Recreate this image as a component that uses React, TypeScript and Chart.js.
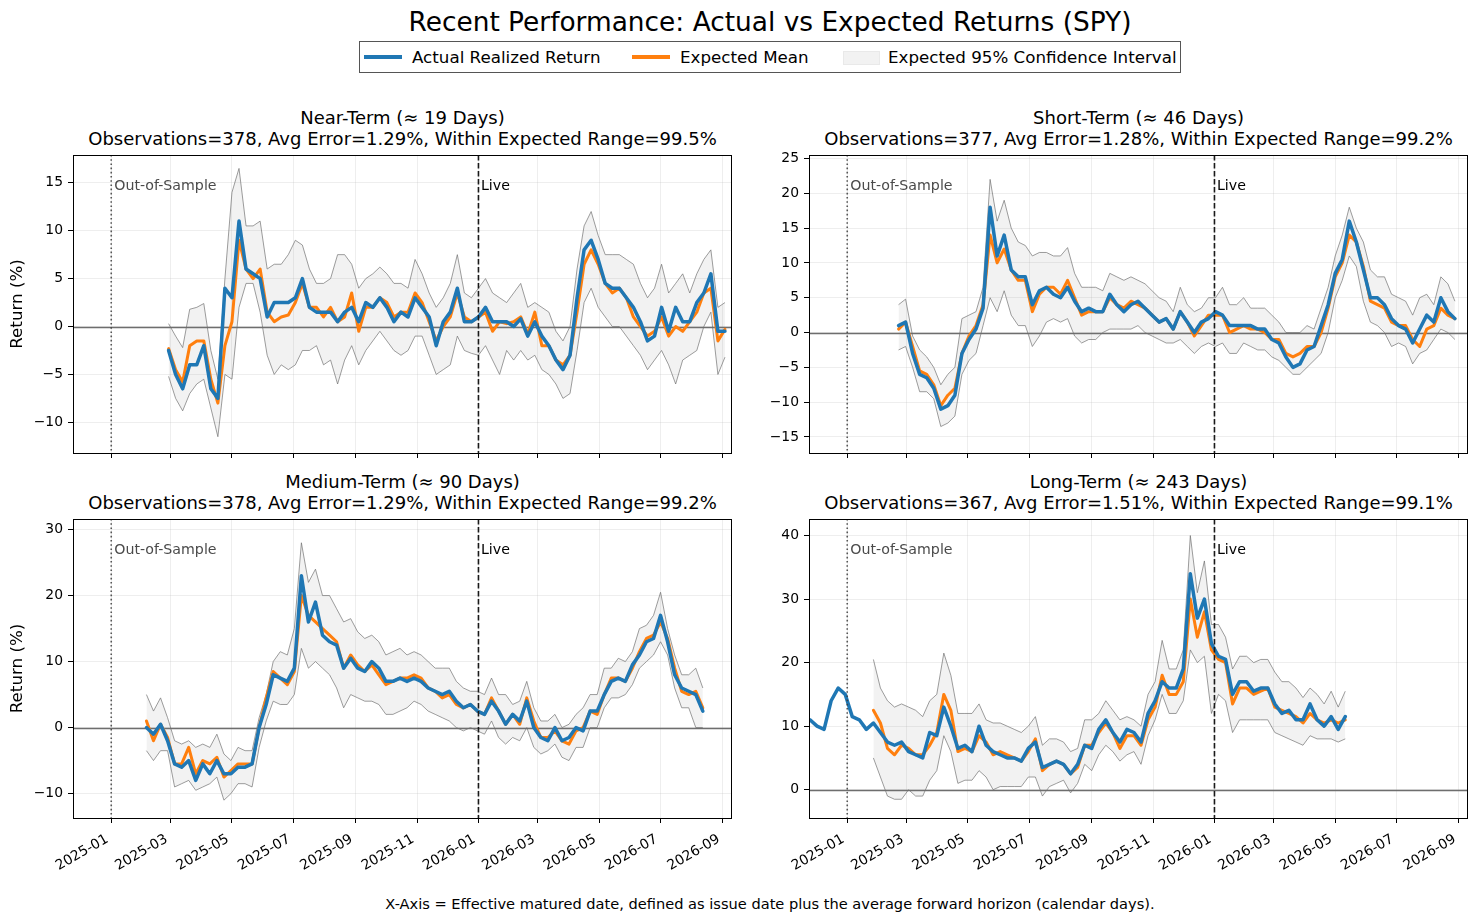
import { useEffect, useRef } from 'react';
import { Chart, registerables } from 'chart.js';

Chart.register(...registerables);

const FONT = "'DejaVu Sans', 'Liberation Sans', sans-serif";

// --- shared axis values ---
const X_TICK_LABELS = [
  '2025-01', '2025-03', '2025-05', '2025-07', '2025-09', '2025-11',
  '2026-01', '2026-03', '2026-05', '2026-07', '2026-09',
];
const X_RANGE = ['2024-11-24', '2026-09-10'];
const OUT_OF_SAMPLE_DATE = '2025-01-01';
const LIVE_DATE = '2026-01-01';
const SAMPLE_STEP_DAYS = 7;

// --- Near-Term (≈ 19 days), weekly from 2025-02-27 ---
const NEAR_START = '2025-02-27';
const NEAR_ACTUAL = [
  -2.5, -5, -6.5, -4, -4, -2, -6.5, -7.5, 4, 3,
  11, 6, 5.5, 5, 1, 2.5, 2.5, 2.5, 3, 5,
  2, 1.5, 1.5, 1.5, 0.5, 1.5, 2, 0.5, 2.5, 2,
  3, 2, 0.5, 1.5, 1, 3, 2, 1, -2, 0.5,
  1.5, 4, 0.5, 0.5, 1, 2, 0.5, 0.5, 0.5, 0,
  0.8, -1, 0.5, -1, -2, -3.5, -4.5, -3, 3, 8,
  9, 7, 4.5, 4, 4, 3, 2, 0.5, -1.5, -1,
  2, -0.5, 2, 0.5, 0.5, 2.5, 3.5, 5.5, -0.5, -0.5,
];
const NEAR_MEAN = [
  -2.3, -4.5, -5.8, -2, -1.5, -1.5, -5.5, -8, -2, 0.5,
  9, 6, 5, 6, 1.5, 0.5, 1, 1.2, 2.5, 4.5,
  2, 2, 1, 2, 0.5, 1, 3.5, -0.5, 2, 2,
  3, 2.5, 1, 1.5, 1.5, 3.5, 2.5, 0.5, -1.5, 0,
  1, 3.5, 1, 0.5, 1, 1.5, -0.5, 0.5, 0.3, 0.5,
  1, -0.8, 1.5, -2, -2, -3.5, -4, -3, 1.5, 6.5,
  8, 6.5, 4.5, 3.5, 4, 3, 1, 0, -1, -0.5,
  1, -1, 0, -0.5, 0.5, 1.5, 3.5, 4, -1.5, -0.3,
];
const NEAR_LOWER = [
  -5.2, -7.5, -8.8, -7, -6, -5.5, -8.5, -11.5, -5, -5.5,
  2, 4.5, 4.5, 1.5, -3, -5, -4, -4.5, -4, -2.5,
  -2.5, -2, -4, -3.5, -6, -3.5, -2, -4, -2.5, -1.5,
  -0.5, -1.5, -2.5, -3, -2.5, -1, -1, -3, -5, -4.5,
  -4, -1, -2.5, -2.8, -3, -2, -3.5, -5, -2.5, -3.5,
  -2.5, -3.5, -3, -4.5, -5, -6, -7.5, -7, -2.5, 2.5,
  4, 2, 1, 0, 0, -1, -2, -3, -4.5, -3.5,
  -2.5, -4, -6, -3.5, -3, -2.5, 0, 1.5, -5, -3.2,
];
const NEAR_UPPER = [
  0.3, -1, -2.2, 1.8, 2, 2.4, -2.5, -5.5, 5, 14,
  16.5, 10.5, 10.5, 11, 6, 6.5, 6.5, 7.5, 9, 8.5,
  6, 4.5, 4.5, 5, 7.5, 7.5, 6.5, 4, 5, 5.5,
  6.2, 5.5, 4.5, 4.5, 4, 7, 5.5, 3.5, 2, 3,
  4.5, 7.5, 3.5, 3, 4, 5, 3.5, 3, 2.5, 3.5,
  4.5, 2, 2.5, 2, 1.5, -0.5, -1.5, 0, 6, 10.5,
  12, 9.5, 7.5, 7.5, 7.5, 7, 6.5, 4.5, 3, 4,
  6.5, 3.5, 4.5, 5.5, 3.5, 5.5, 7, 8, 2, 2.5,
];
const NEAR_Y_TICKS = [-10, -5, 0, 5, 10, 15];

// --- Short-Term (≈ 46 days), weekly from 2025-02-21 ---
const SHORT_START = '2025-02-21';
const SHORT_ACTUAL = [
  1, 1.5, -3, -6, -6.5, -8, -11, -10.5, -9, -3,
  -1, 0.5, 3.5, 18, 11, 14, 9, 8, 8, 4,
  6, 6.5, 5.5, 5, 6.5, 4.5, 3, 3.5, 3, 3,
  5.5, 4, 3, 4, 4.5, 3.5, 2.5, 1.5, 2, 0.5,
  3, 1.5, 0, 1.5, 2, 3, 2.5, 1, 1, 1,
  1, 0.5, 0.5, -1, -1.5, -3.5, -5, -4.5, -2.5, -2,
  1, 4, 8.5, 10.5, 16, 13, 9, 5, 5, 4,
  2, 1, 0.5, -1.5, 0.5, 2.5, 1.5, 5, 3, 2,
];
const SHORT_MEAN = [
  0.5, 1.5, -2, -5.5, -6, -7.5, -10.5, -9, -8, -3,
  -0.5, 1, 4, 14, 10, 12, 9, 7.5, 7.5, 3,
  5.5, 6.5, 6.5, 5.5, 7.5, 5, 2.5, 3, 3, 3,
  5, 4, 3.5, 4.5, 4, 3.5, 2.5, 1.5, 2, 0.5,
  3, 1.5, -0.5, 1, 2.5, 2.5, 2.5, 0, 0.5, 1,
  0.5, 0.5, 0, -1, -1, -3, -3.5, -3, -2, -2,
  0, 3.5, 8, 10, 14, 13, 9.5, 4.5, 4, 3.5,
  1.5, 1, 1, -1, -2, 0.5, 1, 3.5, 2.5, 2,
];
const SHORT_LOWER = [
  -2.5, -2, -5, -8.5, -8.5, -9.5, -13.5, -13, -12, -6,
  -4, -3, 1, 5, 3, 6, 2.5, 1, 1, -2,
  -0.5, 1.5, 2, 1.5, 2, -0.5, -1.5, -1, -1, 0,
  0.5, 0.5, 0.5, 0.5, 1, 0, -0.5, -1, -1.5, -1.5,
  -1, -2, -3, -2, -1.5, -2, -1.5, -3, -3, -1.5,
  -2, -2.5, -2.5, -3.5, -4, -5, -6, -6, -5, -4,
  -3, 0, 5, 7.5, 11, 9.5, 4.5, 1.5, 1, 0,
  -2, -1.5, -2, -4.5, -3, -2.5, -1, 0.5, 0, -1,
];
const SHORT_UPPER = [
  4, 4.8, -0.5, -2.5, -3.5, -5, -7.5, -6, -5, 2,
  2.5, 3, 6.5, 22, 16, 19, 15, 13, 12.5, 11,
  11.5, 11.5, 11, 11, 12.2, 8.5, 6.5, 6.5, 6.5, 6,
  8.5, 8, 7.5, 8, 7.5, 7, 6, 5, 4.5, 3,
  6.5, 4, 3, 3.5, 5, 5, 6.5, 4, 4, 5,
  3.5, 3.5, 3.5, 2.5, 1.5, 0, 0, 0, 1, 0.5,
  3.5, 6.5, 11, 14, 18, 15, 13, 9, 8, 8,
  5.5, 5, 4.5, 2.5, 5, 5.5, 4, 8, 7, 4.5,
];
const SHORT_Y_TICKS = [-15, -10, -5, 0, 5, 10, 15, 20, 25];

// --- Medium-Term (≈ 90 days), weekly from 2025-02-05 ---
const MEDIUM_START = '2025-02-05';
const MEDIUM_ACTUAL = [
  0, -1, 0.5, -2, -5.5, -6, -5, -8, -5.5, -7,
  -5, -7, -7, -6, -6, -5.5, 0, 3.5, 8, 7.5,
  7, 9, 23, 16, 19, 14, 13, 12.5, 9, 10.5,
  9, 8.5, 10, 9, 7, 7, 7.5, 7, 7.5, 7,
  6, 5.5, 5, 5.5, 4, 3, 3.5, 2.5, 2, 4,
  2.5, 0.5, 2, 1, 4, 0, -1.5, -2, 0, -2,
  -1.5, 0, -0.5, 2.5, 2.5, 5, 7, 7.5, 7, 9.5,
  11, 13, 13.5, 17, 13, 8, 6, 5.5, 5, 2.5,
];
const MEDIUM_MEAN = [
  1, -2, 0.5, -1.5, -5.5, -5.5, -3, -7, -5, -5.5,
  -4.5, -7.5, -6.5, -5.5, -5.5, -5.5, 0, 4.5, 8.5, 7.5,
  6.5, 8.5, 20, 17, 16, 15, 14, 13, 9, 11,
  9.5, 8.5, 9.5, 8, 6.5, 7, 7.5, 7.5, 8, 7.5,
  6, 5.5, 4.5, 5, 3.5, 3, 3.5, 2.5, 2, 4.5,
  2.5, 0.5, 2, 0.5, 4.5, 1, -1.5, -1.5, -0.5, -2,
  -2.5, -0.5, 0, 2.5, 2, 5, 7.5, 7.5, 7, 9,
  11.5, 13.5, 14, 16, 13.5, 9, 5.5, 5, 5.5, 3,
];
const MEDIUM_LOWER = [
  -3.5, -5, -3.5, -3.5, -9, -8.5, -8, -9.5, -9, -8.5,
  -7.5, -11, -10, -8.5, -8.5, -9, -3, 1, 4, 3.5,
  3.5, 5, 12, 9, 10, 9, 8, 6, 3, 5,
  4.5, 4, 4, 3.5, 2, 2, 2.5, 3, 4, 3.5,
  2.5, 2, 1.5, 1, 0, -0.5, 0, -0.5, -1, 1,
  -1.5, -2.5, -1.5, -2, 0, -3, -4, -3.5, -2.5, -4.5,
  -5, -3, -3, 0, 0, 3, 4.5, 4.5, 5, 6.5,
  9, 10, 11, 13, 11, 6, 3, 3, 0, 0,
];
const MEDIUM_UPPER = [
  5, 2.5, 4.5, 1.5, -2, -2.5, -2, -3, -2.5, -3,
  -1, -4, -5, -3, -3.5, -3.5, 1.5, 5, 10, 11.5,
  11, 15, 28, 22, 24, 20, 20, 18, 16, 16.5,
  14.5, 13.5, 14, 13, 11, 11.5, 12, 11, 11.5, 11,
  10, 9, 9, 9, 7, 6, 5.5, 5.5, 5, 7.5,
  5, 5, 3.5, 4, 7, 3, 1, 1, 2, 0,
  0.5, 2, 3, 5, 5, 9, 9, 10.5, 10, 11.5,
  15, 15.5, 17, 20.5, 15, 11, 8, 8, 9, 6,
];
const MEDIUM_Y_TICKS = [-10, 0, 10, 20, 30];

// --- Long-Term (≈ 243 days), weekly from 2024-11-25 ---
const LONG_START = '2024-11-25';
const LONG_ACTUAL = [
  11, 10, 9.5, 14, 16, 15, 11.5, 11, 9.5, 10.5,
  9, 7.5, 7, 7.5, 6, 5.5, 5, 9, 8.5, 13,
  10, 6.5, 7, 6, 10, 7, 6, 5.5, 5, 5,
  4.5, 6.5, 7.5, 3.5, 4, 4.5, 4, 2.5, 4, 7,
  6.5, 9.5, 11, 9, 7.5, 9.5, 9, 7.5, 12, 14,
  17, 16, 16, 19, 34, 27, 30, 23, 21, 20.5,
  15, 17, 17, 15.5, 16, 16, 13.5, 12, 12.5, 11,
  11, 13.5, 11, 10, 11.5, 9.5, 11.5,
];
const LONG_MEAN = [
  null, null, null, null, null, null, null, null, null, 12.5,
  10.5, 6.5, 5.5, 7, 6.5, 5.5, 5.5, 7, 9, 15,
  12.5, 6, 6.5, 6, 8.5, 7.5, 5.5, 6, 5.5, 5,
  4.5, 6, 8, 3, 4, 4.5, 4, 2.5, 3.5, 7,
  7, 9, 10.5, 9, 6.5, 8.5, 8.5, 7, 11, 13,
  18, 15, 15, 17, 30, 24, 28, 22, 20.5, 20,
  13.5, 16, 16, 15, 15.5, 16, 13, 12.5, 12, 11.5,
  10.5, 12, 11, 10.5, 11, 10.5, 11,
];
const LONG_LOWER = [
  null, null, null, null, null, null, null, null, null, 5,
  2, -1, -1.5, -1.5, 0, -1, -1, 1.5, 3, 8.5,
  6, 1, 1.5, 1.5, 3, 2, 0, 0.5, 0.5, 0.5,
  0.5, 2, 2, -1, 0.5, 1, 1.5, -0.5, 1, 4,
  3, 5.5, 7, 6, 4.5, 5.5, 6, 4, 8.5, 11,
  15, 12, 12, 14, 22, 20, 21, 12, 15, 14,
  9, 11, 11, 11, 11, 11, 9, 8.5, 8, 7.5,
  7, 8.5, 8, 8, 8, 7.5, 8,
];
const LONG_UPPER = [
  null, null, null, null, null, null, null, null, null, 20.5,
  16, 14, 13, 13.5, 13, 12.5, 11.5, 14, 15, 21.5,
  18, 12, 12, 12, 13.5, 11, 10.5, 10.5, 10, 9.5,
  9, 10, 11.5, 7, 8, 8, 7.5, 6, 6.5, 11,
  11, 12, 14, 12.5, 11, 11.5, 11, 10, 15, 17,
  23.5, 19, 19, 22, 40, 31, 36, 26, 26, 24,
  19, 21, 21, 20, 20.5, 20.5, 18.5, 17, 17, 16,
  14.5, 16, 15, 13.5, 15.5, 13, 15.5,
];
const LONG_Y_TICKS = [0, 10, 20, 30, 40];

const dayNum = (iso: string) => Date.parse(iso + 'T00:00:00Z') / 86400000;

const toPoints = (start: string, values: (number | null)[]) =>
  values.map((v, i) => ({ x: dayNum(start) + SAMPLE_STEP_DAYS * i, y: v }));

const formatY = (v: number) => (v < 0 ? '\u2212' + Math.abs(v) : String(v));

const xLabelFor = (v: number) => X_TICK_LABELS.find(l => dayNum(l + '-01') === v) ?? '';

// reference lines, labels and the axes frame
const panelMarks = {
  id: 'panelMarks',
  beforeDatasetsDraw(chart: any) {
    const { ctx, chartArea: a, scales } = chart;
    const y0 = Math.round(scales.y.getPixelForValue(0)) + 0.5;
    ctx.save();
    ctx.strokeStyle = '#6e6e6e';
    ctx.lineWidth = 1.4;
    ctx.beginPath();
    ctx.moveTo(a.left, y0);
    ctx.lineTo(a.right, y0);
    ctx.stroke();
    ctx.restore();
  },
  afterDatasetsDraw(chart: any) {
    const { ctx, chartArea: a, scales } = chart;
    const xo = scales.x.getPixelForValue(dayNum(OUT_OF_SAMPLE_DATE));
    const xl = scales.x.getPixelForValue(dayNum(LIVE_DATE));
    ctx.save();
    ctx.lineWidth = 1.6;
    ctx.setLineDash([1.6, 2.6]);
    ctx.strokeStyle = 'rgba(60,60,60,0.85)';
    ctx.beginPath();
    ctx.moveTo(xo, a.top);
    ctx.lineTo(xo, a.bottom);
    ctx.stroke();
    ctx.setLineDash([5.5, 2.5]);
    ctx.strokeStyle = '#1a1a1a';
    ctx.beginPath();
    ctx.moveTo(xl, a.top);
    ctx.lineTo(xl, a.bottom);
    ctx.stroke();
    ctx.setLineDash([]);
    ctx.font = `14.2px ${FONT}`;
    ctx.textAlign = 'left';
    ctx.textBaseline = 'middle';
    ctx.fillStyle = '#4a4a4a';
    ctx.fillText('Out-of-Sample', xo + 3, a.top + 31);
    ctx.fillStyle = '#000';
    ctx.fillText('Live', xl + 2.5, a.top + 31);
    ctx.restore();
  },
  afterDraw(chart: any) {
    const { ctx, chartArea: a } = chart;
    ctx.save();
    ctx.strokeStyle = '#000';
    ctx.lineWidth = 1;
    ctx.strokeRect(Math.round(a.left) + 0.5, Math.round(a.top) + 0.5,
      Math.round(a.right - a.left) - 1, Math.round(a.bottom - a.top));
    ctx.restore();
  },
};

interface PanelCfg {
  id: string;
  title: string;
  subtitle: string;
  start: string;
  actual: (number | null)[];
  mean: (number | null)[];
  lower: (number | null)[];
  upper: (number | null)[];
  yMin: number;
  yMax: number;
  yTicks: number[];
  left: number;
  top: number;
  width: number;
  height: number;
  axisWidth: number;
  padRight: number;
  xHeight: number;
  showXLabels: boolean;
  showYTitle: boolean;
}

const PANELS: PanelCfg[] = [
  {
    id: 'near', title: 'Near-Term (\u2248 19 Days)',
    subtitle: 'Observations=378, Avg Error=1.29%, Within Expected Range=99.5%',
    start: NEAR_START, actual: NEAR_ACTUAL, mean: NEAR_MEAN, lower: NEAR_LOWER, upper: NEAR_UPPER,
    yMin: -13.2, yMax: 17.9, yTicks: NEAR_Y_TICKS,
    left: 0, top: 135, width: 740, height: 338, axisWidth: 73, padRight: 8, xHeight: 20,
    showXLabels: false, showYTitle: true,
  },
  {
    id: 'short', title: 'Short-Term (\u2248 46 Days)',
    subtitle: 'Observations=377, Avg Error=1.28%, Within Expected Range=99.2%',
    start: SHORT_START, actual: SHORT_ACTUAL, mean: SHORT_MEAN, lower: SHORT_LOWER, upper: SHORT_UPPER,
    yMin: -17.3, yMax: 25.5, yTicks: SHORT_Y_TICKS,
    left: 740, top: 135, width: 738, height: 338, axisWidth: 69, padRight: 10, xHeight: 20,
    showXLabels: false, showYTitle: false,
  },
  {
    id: 'medium', title: 'Medium-Term (\u2248 90 Days)',
    subtitle: 'Observations=378, Avg Error=1.29%, Within Expected Range=99.2%',
    start: MEDIUM_START, actual: MEDIUM_ACTUAL, mean: MEDIUM_MEAN, lower: MEDIUM_LOWER, upper: MEDIUM_UPPER,
    yMin: -13.7, yMax: 31.6, yTicks: MEDIUM_Y_TICKS,
    left: 0, top: 499, width: 740, height: 395, axisWidth: 73, padRight: 8, xHeight: 76,
    showXLabels: true, showYTitle: true,
  },
  {
    id: 'long', title: 'Long-Term (\u2248 243 Days)',
    subtitle: 'Observations=367, Avg Error=1.51%, Within Expected Range=99.1%',
    start: LONG_START, actual: LONG_ACTUAL, mean: LONG_MEAN, lower: LONG_LOWER, upper: LONG_UPPER,
    yMin: -4.45, yMax: 42.6, yTicks: LONG_Y_TICKS,
    left: 740, top: 499, width: 738, height: 395, axisWidth: 69, padRight: 10, xHeight: 76,
    showXLabels: true, showYTitle: false,
  },
];

function ReturnPanel({ cfg }: { cfg: PanelCfg }) {
  const chartRef = useRef<HTMLCanvasElement>(null);
  const chartInstance = useRef<Chart | null>(null);

  useEffect(() => {
    if (!chartRef.current) return;
    if (chartInstance.current) chartInstance.current.destroy();
    const ctx = chartRef.current.getContext('2d');
    if (!ctx) return;

    const bandLine = {
      borderColor: 'rgba(110,110,110,0.85)',
      borderWidth: 0.8,
      pointRadius: 0,
      tension: 0,
    };

    chartInstance.current = new Chart(ctx, {
      type: 'line',
      data: {
        datasets: [
          { ...bandLine, label: 'lower', data: toPoints(cfg.start, cfg.lower), fill: false, order: 3 },
          {
            ...bandLine, label: 'upper', data: toPoints(cfg.start, cfg.upper),
            fill: '-1', backgroundColor: 'rgba(128,128,128,0.1)', order: 2,
          },
          {
            label: 'Expected Mean', data: toPoints(cfg.start, cfg.mean),
            borderColor: '#ff7f0e', borderWidth: 3, pointRadius: 0,
            borderJoinStyle: 'round', borderCapStyle: 'round', fill: false, order: 1,
          },
          {
            label: 'Actual Realized Return', data: toPoints(cfg.start, cfg.actual),
            borderColor: '#1f77b4', borderWidth: 3.5, pointRadius: 0,
            borderJoinStyle: 'round', borderCapStyle: 'round', fill: false, order: 0,
          },
        ] as any,
      },
      options: {
        responsive: true,
        maintainAspectRatio: false,
        animation: false,
        events: [],
        layout: { padding: { top: 20, right: cfg.padRight, bottom: 0, left: 0 } },
        plugins: {
          legend: { display: false },
          tooltip: { enabled: false },
        },
        scales: {
          x: {
            type: 'linear',
            bounds: 'data',
            min: dayNum(X_RANGE[0]),
            max: dayNum(X_RANGE[1]),
            afterBuildTicks: (s: any) => {
              s.ticks = X_TICK_LABELS.map(l => ({ value: dayNum(l + '-01') }));
            },
            afterFit: (s: any) => { s.height = cfg.xHeight; },
            ticks: {
              display: cfg.showXLabels,
              autoSkip: false,
              minRotation: 30,
              maxRotation: 30,
              padding: 8,
              labelOffset: -4,
              color: '#000',
              font: { family: FONT, size: 13.9 },
              callback: (v: any) => xLabelFor(Number(v)),
            },
            grid: {
              color: 'rgba(176,176,176,0.28)',
              lineWidth: 0.8,
              tickColor: '#000',
              tickLength: 5,
              tickWidth: 1,
            },
            border: { display: false },
          },
          y: {
            type: 'linear',
            bounds: 'data',
            min: cfg.yMin,
            max: cfg.yMax,
            afterBuildTicks: (s: any) => {
              s.ticks = cfg.yTicks.map(value => ({ value }));
            },
            afterFit: (s: any) => { s.width = cfg.axisWidth; },
            ticks: {
              padding: 5,
              color: '#000',
              font: { family: FONT, size: 13.9 },
              callback: (v: any) => formatY(Number(v)),
            },
            grid: {
              color: 'rgba(176,176,176,0.28)',
              lineWidth: 0.8,
              tickColor: '#000',
              tickLength: 5,
              tickWidth: 1,
            },
            border: { display: false },
            title: {
              display: cfg.showYTitle,
              text: 'Return (%)',
              color: '#000',
              font: { family: FONT, size: 16.7 },
              padding: { top: 7.5, bottom: 0 },
            },
          },
        },
      } as any,
      plugins: [panelMarks],
    });

    return () => {
      if (chartInstance.current) {
        chartInstance.current.destroy();
        chartInstance.current = null;
      }
    };
  }, [cfg]);

  return (
    <div style={{ position: 'absolute', left: cfg.left, top: cfg.top, width: cfg.width, height: cfg.height }}>
      <canvas ref={chartRef} />
    </div>
  );
}

function PanelTitle({ cfg }: { cfg: PanelCfg }) {
  const plotLeft = cfg.left + cfg.axisWidth;
  const plotRight = cfg.left + cfg.width - cfg.padRight;
  const plotTop = cfg.top + 20;
  return (
    <div
      style={{
        position: 'absolute',
        left: plotLeft - 100,
        width: plotRight - plotLeft + 200,
        top: plotTop - 48.5,
        textAlign: 'center',
        fontSize: 18,
        lineHeight: '21px',
        whiteSpace: 'nowrap',
      }}
    >
      <div>{cfg.title}</div>
      <div>{cfg.subtitle}</div>
    </div>
  );
}

const legendText = { position: 'absolute' as const, top: 47, fontSize: 16.7, lineHeight: '20px', whiteSpace: 'nowrap' as const };

export default function App() {
  return (
    <div
      style={{
        position: 'fixed', left: 0, top: 0, width: 1478, height: 922,
        background: '#fff', fontFamily: FONT, color: '#000', overflow: 'hidden',
      }}
    >
      <div style={{ position: 'absolute', left: 270, width: 1000, top: 6, textAlign: 'center', fontSize: 26.4, lineHeight: '32px' }}>
        Recent Performance: Actual vs Expected Returns (SPY)
      </div>

      <div style={{ position: 'absolute', left: 359, top: 41, width: 822, height: 32, border: '1px solid #555', boxSizing: 'border-box' }} />
      <div style={{ position: 'absolute', left: 364, top: 55, width: 38, height: 4, background: '#1f77b4' }} />
      <div style={{ ...legendText, left: 412 }}>Actual Realized Return</div>
      <div style={{ position: 'absolute', left: 632, top: 55, width: 38, height: 4, background: '#ff7f0e' }} />
      <div style={{ ...legendText, left: 680 }}>Expected Mean</div>
      <div style={{ position: 'absolute', left: 843, top: 51, width: 35, height: 12, background: 'rgba(128,128,128,0.1)', border: '1px solid rgba(128,128,128,0.08)' }} />
      <div style={{ ...legendText, left: 888 }}>Expected 95% Confidence Interval</div>

      {PANELS.map(p => <PanelTitle key={'t-' + p.id} cfg={p} />)}
      {PANELS.map(p => <ReturnPanel key={p.id} cfg={p} />)}

      <div style={{ position: 'absolute', left: 270, width: 1000, top: 895, textAlign: 'center', fontSize: 14.6, lineHeight: '18px' }}>
        X-Axis = Effective matured date, defined as issue date plus the average forward horizon (calendar days).
      </div>
    </div>
  );
}
